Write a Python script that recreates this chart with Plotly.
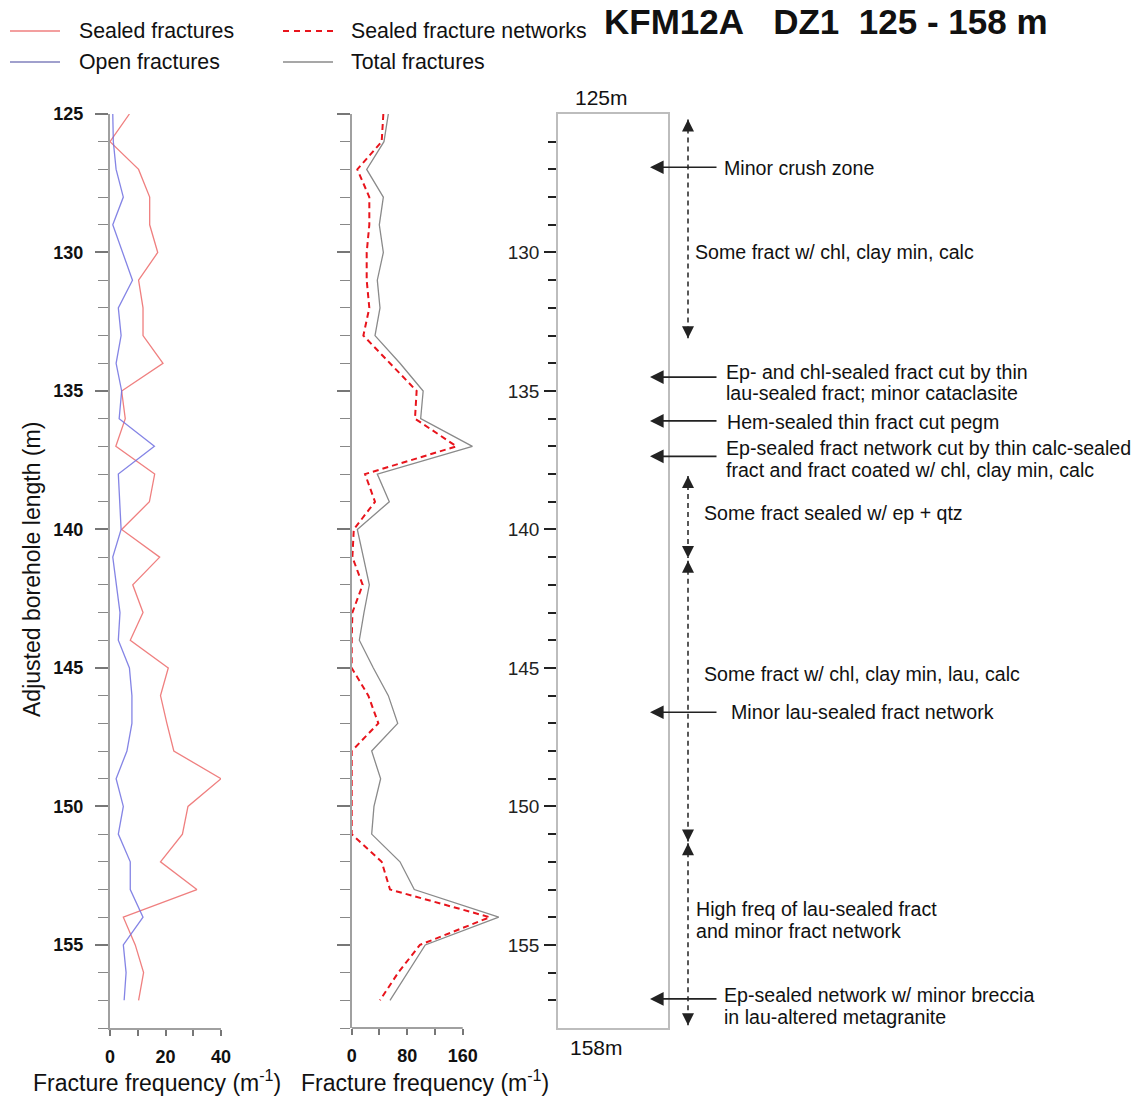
import plotly.graph_objects as go

W, H = 1144, 1097

# ---------------- data ----------------
depth = list(range(125, 158))  # 125 ... 157 m

sealed = [7.0, 0.0, 10.3, 14.3, 14.3, 17.2, 10.3, 11.9, 11.9, 19.1, 4.2,
          5.5, 2.1, 16.1, 14.2, 4.2, 17.9, 8.2, 11.9, 7.3, 21.0, 18.2,
          20.5, 23.0, 40.0, 28.1, 26.1, 18.2, 31.3, 4.8, 9.1, 12.1, 10.3]
open_fr = [1.0, 1.2, 2.2, 4.8, 1.0, 4.6, 8.1, 3.0, 4.0, 2.2, 4.2,
           3.3, 16.0, 3.0, 3.6, 4.0, 1.0, 2.4, 3.6, 3.0, 7.0, 7.9,
           7.9, 6.1, 2.2, 4.8, 3.0, 7.3, 7.3, 11.9, 4.8, 5.8, 5.1]
networks = [45.6, 43.2, 8.1, 25.4, 25.4, 21.6, 21.6, 25.4, 16.8, 55.0, 93.6,
            91.2, 151.0, 19.2, 33.6, 3.0, 1.0, 15.8, 1.0, 0.0, 0.0, 24.0,
            38.4, 0.0, 0.0, 0.0, 0.0, 43.2, 55.2, 199.0, 98.4, 67.0, 40.8]
total = [52.8, 46.5, 21.6, 45.6, 39.8, 45.6, 36.9, 40.8, 33.6, 69.6, 103.0,
         99.4, 174.0, 36.9, 54.2, 8.1, 16.8, 25.4, 17.7, 11.0, 31.2, 52.8,
         66.3, 28.8, 41.7, 32.1, 28.8, 69.6, 90.2, 212.0, 106.0, 81.0, 55.2]

y_major = [125, 130, 135, 140, 145, 150, 155]
x1_ticks = [0, 10, 20, 30, 40]
x1_text = ["0", "", "20", "", "40"]
x2_ticks = [0, 40, 80, 120, 160]
x2_text = ["0", "", "80", "", "160"]

# log annotations (depth in m)
arrow_depths = [126.92, 134.5, 136.08, 137.36, 146.6, 156.95]
range_segments = [(125.2, 133.1), (138.07, 141.03), (141.13, 151.27), (151.33, 157.9)]
note_lines = [
    ("Minor crush zone", 126.95, 724),
    ("Some fract w/ chl, clay min, calc", 129.98, 695),
    ("Ep- and chl-sealed fract cut by thin", 134.31, 726),
    ("lau-sealed fract; minor cataclasite", 135.07, 726),
    ("Hem-sealed thin fract cut pegm", 136.12, 727),
    ("Ep-sealed fract network cut by thin calc-sealed", 137.06, 726),
    ("fract and fract coated w/ chl, clay min, calc", 137.85, 726),
    ("Some fract sealed w/ ep + qtz", 139.4, 704),
    ("Some fract w/ chl, clay min, lau, calc", 145.22, 704),
    ("Minor lau-sealed fract network", 146.59, 731),
    ("High freq of lau-sealed fract", 153.7, 696),
    ("and minor fract network", 154.49, 696),
    ("Ep-sealed network w/ minor breccia", 156.81, 724),
    ("in lau-altered metagranite", 157.6, 724),
]

# ---------------- styles ----------------
C_SEALED = "rgba(236,105,105,0.85)"
C_OPEN = "rgba(110,110,225,0.85)"
C_NET = "#e8141c"
C_TOTAL = "#8a8a8a"
FONT = "Liberation Sans, Arial, sans-serif"
AX = "#a0a0a0"


def px(x):
    return x / W


def py(y):
    return 1 - y / H


ydom = [py(1028), py(114)]

fig = go.Figure()
fig.add_trace(go.Scatter(x=sealed, y=depth, mode="lines", name="Sealed fractures",
                         line=dict(color=C_SEALED, width=1.3), xaxis="x", yaxis="y", showlegend=False))
fig.add_trace(go.Scatter(x=open_fr, y=depth, mode="lines", name="Open fractures",
                         line=dict(color=C_OPEN, width=1.3), xaxis="x", yaxis="y", showlegend=False))
fig.add_trace(go.Scatter(x=total, y=depth, mode="lines", name="Total fractures",
                         line=dict(color=C_TOTAL, width=1.3), xaxis="x2", yaxis="y2", showlegend=False))
fig.add_trace(go.Scatter(x=networks, y=depth, mode="lines", name="Sealed fracture networks",
                         line=dict(color=C_NET, width=2, dash="6px,4px"), xaxis="x2", yaxis="y2",
                         showlegend=False))
fig.add_trace(go.Scatter(x=[None], y=[None], xaxis="x3", yaxis="y3", showlegend=False))

tick_font_bold = dict(family=FONT, size=18, color="#111", weight="bold")

common_y = dict(range=[158, 125], domain=ydom, showgrid=False, zeroline=False,
                tickvals=y_major, ticks="outside", ticklen=13, tickwidth=1.5,
                tickcolor="#777", showline=True, linecolor=AX, linewidth=2.2, automargin=False,
                minor=dict(dtick=1, ticks="outside", ticklen=10, tickwidth=1.2, tickcolor="#888"))

fig.update_layout(
    width=W, height=H,
    margin=dict(l=0, r=0, t=0, b=0, autoexpand=False),
    paper_bgcolor="white", plot_bgcolor="rgba(0,0,0,0)",
    font=dict(family=FONT, color="#111"),
    xaxis=dict(domain=[px(110), px(221)], range=[0, 40], anchor="y", automargin=False,
               tickvals=x1_ticks, ticktext=x1_text, ticks="outside", ticklen=6,
               tickwidth=1.5, tickcolor="#777", showline=True, linecolor=AX, linewidth=2.2,
               showgrid=False, zeroline=False, tickfont=tick_font_bold, ticklabelstandoff=5),
    yaxis=dict(anchor="x", showticklabels=True, tickfont=tick_font_bold,
               ticklabelstandoff=8, **common_y),
    xaxis2=dict(domain=[px(351.7), px(351.7 + 230 * 111 / 160)], range=[0, 230], anchor="y2",
                tickvals=x2_ticks, ticktext=x2_text, ticks="outside", ticklen=6, automargin=False,
                tickwidth=1.5, tickcolor="#777", showline=False, ticklabelstandoff=5,
                showgrid=False, zeroline=False, tickfont=tick_font_bold),
    yaxis2=dict(anchor="x2", showticklabels=False, **common_y),
    xaxis3=dict(domain=[px(558), px(668)], range=[0, 1], anchor="y3", showline=True,
                mirror=True, linecolor="#bdbdbd", linewidth=1.5, ticks="", automargin=False,
                showticklabels=False, showgrid=False, zeroline=False),
    yaxis3=dict(domain=ydom, range=[158, 125], anchor="x3", showline=True, mirror=True,
                linecolor="#bdbdbd", linewidth=1.5, showgrid=False, zeroline=False,
                automargin=False,
                tickvals=[130, 135, 140, 145, 150, 155], ticks="outside", ticklen=12,
                tickwidth=2, tickcolor="#222",
                tickfont=dict(family=FONT, size=19, color="#222"), ticklabelstandoff=1,
                minor=dict(tickvals=[d for d in depth if d not in y_major and d != 125],
                           ticks="outside", ticklen=8, tickwidth=2, tickcolor="#222")),
)

shapes = []
annotations = []

# bottom axis line of middle panel (0-160 only)
shapes.append(dict(type="line", xref="x2", yref="paper", x0=0, x1=160,
                   y0=ydom[0], y1=ydom[0], line=dict(color=AX, width=2)))

# x-axis titles
for cx in (157, 425):
    annotations.append(dict(text="Fracture frequency (m<sup>-1</sup>)", xref="paper", yref="paper",
                            x=px(cx), y=py(1081), showarrow=False, xanchor="center",
                            yanchor="middle", font=dict(family=FONT, size=23, color="#111")))

# y-axis title
annotations.append(dict(text="Adjusted borehole length (m)", xref="paper", yref="paper",
                        x=px(32), y=py(570), showarrow=False, textangle=-90,
                        xanchor="center", yanchor="middle",
                        font=dict(family=FONT, size=23, color="#111")))

# title
annotations.append(dict(text="KFM12A\u00a0\u00a0\u00a0DZ1\u00a0\u00a0125 - 158 m", xref="paper",
                        yref="paper", x=px(602), y=py(22), showarrow=False, xanchor="left",
                        yanchor="middle",
                        font=dict(family=FONT, size=35, color="#111", weight="bold")))

# box labels
annotations.append(dict(text="125m", xref="paper", yref="paper", x=px(601), y=py(98),
                        showarrow=False, xanchor="center", yanchor="middle",
                        font=dict(family=FONT, size=21, color="#111")))
annotations.append(dict(text="158m", xref="paper", yref="paper", x=px(596), y=py(1047),
                        showarrow=False, xanchor="center", yanchor="middle",
                        font=dict(family=FONT, size=21, color="#111")))

# legend (drawn)
legend_items = [
    ("Sealed fractures", 10, 77, 31, dict(color=C_SEALED, width=1.3)),
    ("Open fractures", 10, 77, 62, dict(color="rgba(150,150,200,0.9)", width=2)),
    ("Sealed fracture networks", 283, 349, 31, dict(color=C_NET, width=2, dash="6px,5px")),
    ("Total fractures", 283, 349, 62, dict(color=C_TOTAL, width=1.3)),
]
for label, lx, tx, ly, ln in legend_items:
    shapes.append(dict(type="line", xref="paper", yref="paper", x0=px(lx), x1=px(lx + 50),
                       y0=py(ly), y1=py(ly), line=ln))
    annotations.append(dict(text=label, xref="paper", yref="paper", x=px(tx), y=py(ly),
                            showarrow=False, xanchor="left", yanchor="middle",
                            font=dict(family=FONT, size=21.3, color="#111")))

# horizontal arrows
for d in arrow_depths:
    annotations.append(dict(text="", xref="paper", yref="y3", x=px(650), y=d,
                            axref="pixel", ayref="pixel", ax=68, ay=0, showarrow=True,
                            arrowhead=2, arrowsize=1.7, arrowwidth=1.6, arrowcolor="#222"))

# dashed range arrows
xr = px(688)
for top, bot in range_segments:
    shapes.append(dict(type="line", xref="paper", yref="y3", x0=xr, x1=xr, y0=top, y1=bot,
                       line=dict(color="#222", width=1.5, dash="5px,4px")))
    annotations.append(dict(text="", xref="paper", yref="y3", x=xr, y=top,
                            axref="pixel", ayref="pixel", ax=0, ay=12, showarrow=True,
                            arrowhead=2, arrowsize=1.6, arrowwidth=1.5, arrowcolor="#222"))
    annotations.append(dict(text="", xref="paper", yref="y3", x=xr, y=bot,
                            axref="pixel", ayref="pixel", ax=0, ay=-12, showarrow=True,
                            arrowhead=2, arrowsize=1.6, arrowwidth=1.5, arrowcolor="#222"))

# notes
for txt, d, x in note_lines:
    annotations.append(dict(text=txt, xref="paper", yref="y3", x=px(x - 2), y=d,
                            showarrow=False, xanchor="left", yanchor="middle", align="left",
                            font=dict(family=FONT, size=19.6, color="#111")))

fig.update_layout(shapes=shapes, annotations=annotations)
fig.write_html("out.html")
